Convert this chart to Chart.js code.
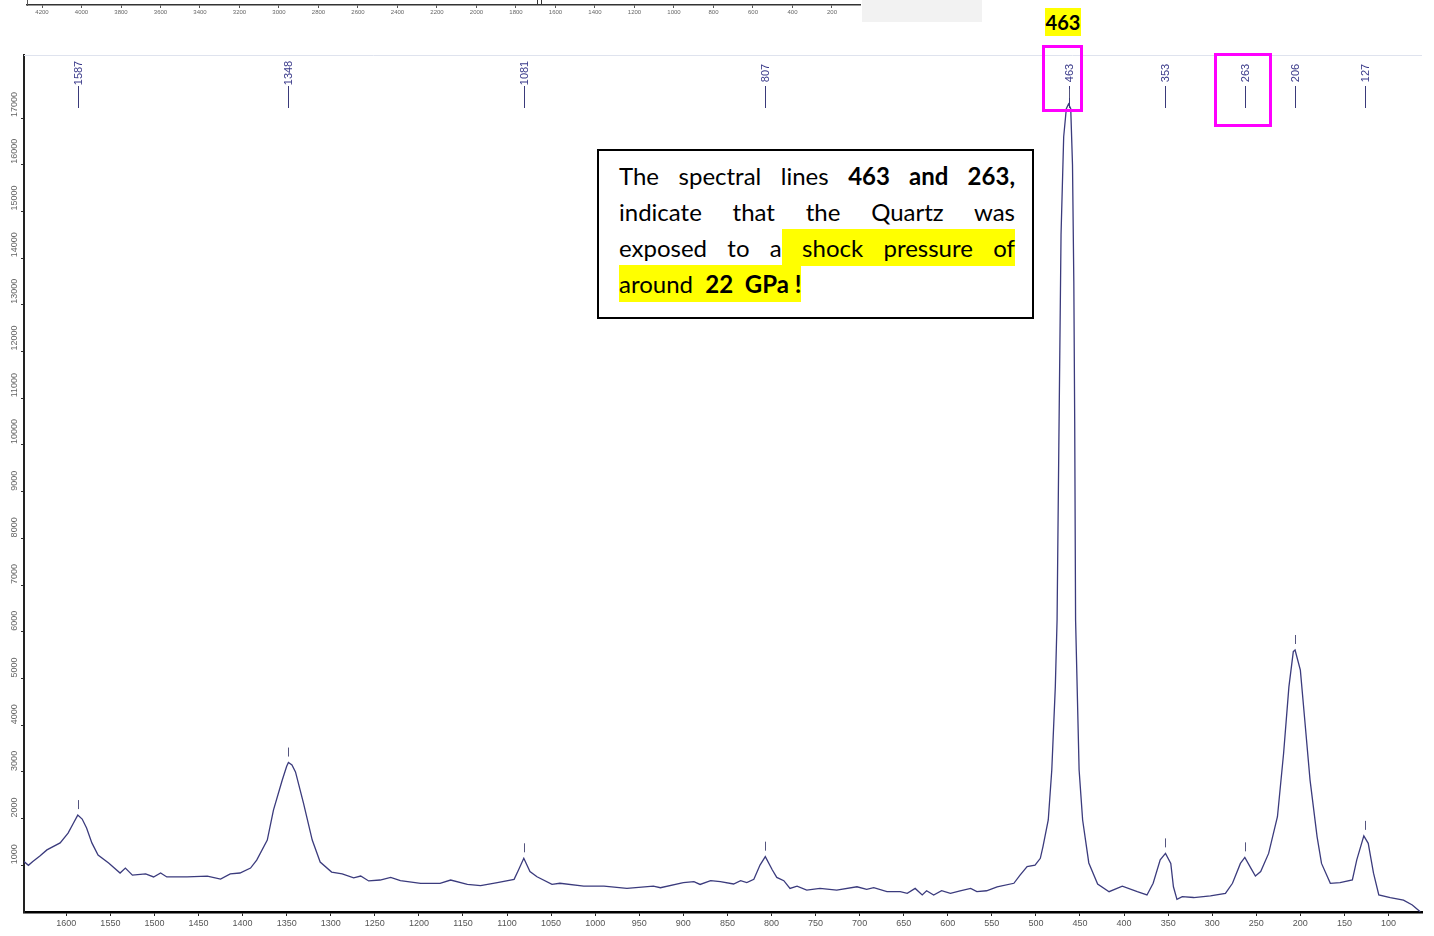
<!DOCTYPE html>
<html><head><meta charset="utf-8">
<script src="https://cdn.jsdelivr.net/npm/chart.js@4"></script>
<style>
html,body{margin:0;padding:0;background:#fff;}
#wrap{position:relative;width:1434px;height:936px;overflow:hidden;background:#fff;}
#main{position:absolute;left:0;top:0;}
#thumbBg{position:absolute;left:0;top:0;width:982px;height:22px;background:#f2f2f2;}
#thumbWhite{position:absolute;left:0;top:0;width:862px;height:22px;background:#fff;}
#thumb{position:absolute;left:0;top:0;}
.note{position:absolute;left:597px;top:149px;width:396px;height:159px;padding:7px 17px 0 20px;border:2px solid #000;background:#fff;font-family:Lato,"Open Sans",sans-serif;font-size:24px;line-height:36px;color:#000;}
.note div{white-space:nowrap;}
.note .j{text-align:justify;text-align-last:justify;white-space:normal;}
.hl{background:#ffff00;padding:3.6px 0;}
.big463{position:absolute;left:1045px;top:8px;width:36px;height:28px;background:#ffff00;font:bold 20px Lato,sans-serif;line-height:28px;text-align:center;color:#000;}
.mag{position:absolute;border:3px solid #ff00ff;box-sizing:border-box;}
</style></head>
<body>
<div id="wrap">
<canvas id="main" width="1434" height="936"></canvas>
<div id="thumbBg"></div>
<div id="thumbWhite"></div>
<canvas id="thumb" width="862" height="22"></canvas>
<div class="note">
<div class="j">The spectral lines <b>463 and 263,</b></div>
<div class="j">indicate that the Quartz was</div>
<div class="j">exposed to a<span class="hl"> shock pressure of</span></div>
<div><span class="hl">around&nbsp; <b>22&nbsp; GPa !</b></span></div>
</div>
<div class="big463">463</div>
<div class="mag" style="left:1042px;top:45px;width:41px;height:67px;"></div>
<div class="mag" style="left:1214px;top:53px;width:58px;height:74px;"></div>
</div>
<script>
const ramanShift = [1648,1643,1638,1630,1622,1607,1598,1592,1587,1582,1577,1571,1564,1552,1539,1533,1525,1510,1501,1493,1486,1463,1440,1425,1414,1403,1391,1384,1372,1365,1355,1350,1348,1344,1340,1331,1321,1312,1299,1287,1274,1266,1257,1244,1232,1221,1198,1176,1164,1145,1130,1111,1092,1087,1081,1074,1066,1049,1040,1013,990,964,934,926,900,888,881,869,858,843,835,828,820,813,807,799,794,786,779,771,760,745,726,703,692,684,669,654,646,637,629,624,616,607,597,586,574,567,556,544,525,518,510,501,495,492,486,482,478,476,474,471.5,468.5,465.5,463,460.5,458.5,457,456,455,451,447,440,430,417,402,385,374,367,359,353,347,344,340,334,321,302,285,277,268,263,256,251,245,236,226,219,213,208,206,200,195,189,181,176,166,155,141,136,128,123,117,111,98,83,73,64];
const intensity = [1080,1000,1080,1200,1330,1480,1690,1900,2075,1990,1800,1480,1220,1050,835,940,790,815,750,835,750,750,770,705,815,835,940,1110,1540,2180,2825,3120,3200,3150,3000,2335,1540,1070,855,815,730,770,665,685,740,670,615,615,685,590,565,630,700,900,1150,865,755,590,615,555,555,505,555,520,630,650,590,670,650,600,670,630,700,1005,1185,900,740,670,505,555,470,505,470,540,485,520,435,435,400,505,365,455,365,455,400,450,505,435,455,540,615,790,970,1005,1150,1400,1970,3040,4820,6250,10000,14500,16600,17200,17300,17200,16000,13500,10500,6250,3040,1970,1050,600,435,555,435,365,615,1115,1255,1040,540,270,330,310,345,400,615,1040,1170,935,770,865,1255,2040,3400,4820,5575,5610,5180,4110,2825,1610,1040,615,630,685,1115,1630,1470,830,365,310,255,150,5];
const xTickValues = [1600,1550,1500,1450,1400,1350,1300,1250,1200,1150,1100,1050,1000,950,900,850,800,750,700,650,600,550,500,450,400,350,300,250,200,150,100];
const yTickValues = [1000,2000,3000,4000,5000,6000,7000,8000,9000,10000,11000,12000,13000,14000,15000,16000,17000];
const peakLabels = [1587,1348,1081,807,463,353,263,206,127];
const thumbTickValues = [4200,4000,3800,3600,3400,3200,3000,2800,2600,2400,2200,2000,1800,1600,1400,1200,1000,800,600,400,200];
const thumbRangeMarks = [1695,1675];

function peakValue(p){
  let best = 0;
  ramanShift.forEach((s,i)=>{ if(Math.abs(s-p)<=4 && intensity[i]>best) best=intensity[i]; });
  return best;
}

const annot = {
  id:'annot',
  afterDraw(chart){
    const ctx = chart.ctx, xs = chart.scales.x, ys = chart.scales.y, ca = chart.chartArea;
    ctx.save();
    ctx.strokeStyle = '#dfe3ee'; ctx.lineWidth = 1;
    ctx.beginPath(); ctx.moveTo(ca.left, ca.top+0.5); ctx.lineTo(ca.right, ca.top+0.5); ctx.stroke();
    ctx.fillStyle = '#666'; ctx.font = '9px "Liberation Sans", Arial, sans-serif';
    yTickValues.forEach(v=>{
      const py = ys.getPixelForValue(v);
      ctx.save(); ctx.translate(15, py); ctx.rotate(-Math.PI/2);
      ctx.textAlign='left'; ctx.textBaseline='middle';
      ctx.fillText(String(v), 1, 0);
      ctx.restore();
    });
    peakLabels.forEach(p=>{
      const px = Math.round(xs.getPixelForValue(p))+0.5;
      ctx.save(); ctx.translate(px, 73); ctx.rotate(-Math.PI/2);
      ctx.fillStyle='#3a3a8a'; ctx.font='11px "Liberation Sans", Arial, sans-serif';
      ctx.textAlign='center'; ctx.textBaseline='middle';
      ctx.fillText(String(p),0,0);
      ctx.restore();
      ctx.strokeStyle='#3a3a7a'; ctx.lineWidth=1;
      ctx.beginPath(); ctx.moveTo(px,86); ctx.lineTo(px,108); ctx.stroke();
      const py = ys.getPixelForValue(peakValue(p));
      ctx.strokeStyle='#55557f';
      ctx.beginPath(); ctx.moveTo(px,py-15); ctx.lineTo(px,py-6); ctx.stroke();
    });
    ctx.restore();
  }
};

new Chart(document.getElementById('main').getContext('2d'), {
  type:'line',
  data:{datasets:[{
    data: ramanShift.map((x,i)=>({x:x, y:intensity[i]})),
    borderColor:'#3b3b7d', borderWidth:1.3, pointRadius:0, tension:0, fill:false
  }]},
  options:{
    responsive:false, animation:false, events:[],
    layout:{padding:{top:55,right:12,left:0,bottom:0}},
    plugins:{legend:{display:false}, tooltip:{enabled:false}},
    scales:{
      x:{type:'linear', reverse:true, min:62, max:1648,
        afterBuildTicks:s=>{ s.ticks = xTickValues.map(v=>({value:v})); },
        afterFit:s=>{ s.height = 24; },
        grid:{display:true, drawOnChartArea:false, drawTicks:true, tickLength:4, color:'#222'},
        border:{display:true, color:'#000', width:2.5},
        ticks:{font:{family:'"Liberation Sans", Arial, sans-serif', size:9}, color:'#555', padding:2, maxRotation:0, minRotation:0, autoSkip:false, callback:v=>String(v)}
      },
      y:{type:'linear', min:0, max:18350,
        afterBuildTicks:s=>{ s.ticks = yTickValues.map(v=>({value:v})); },
        afterFit:s=>{ s.width = 24; },
        grid:{display:true, drawOnChartArea:false, drawTicks:true, tickLength:3, color:'#333'},
        border:{display:true, color:'#222', width:2},
        ticks:{display:false}
      }
    }
  },
  plugins:[annot]
});

const thumbMarks = {
  id:'thumbMarks',
  afterDraw(chart){
    const ctx=chart.ctx, xs=chart.scales.x, ca=chart.chartArea;
    ctx.save(); ctx.strokeStyle='#333'; ctx.lineWidth=1;
    thumbRangeMarks.forEach(v=>{
      const px=Math.round(xs.getPixelForValue(v))+0.5;
      ctx.beginPath(); ctx.moveTo(px,0); ctx.lineTo(px,ca.bottom); ctx.stroke();
    });
    ctx.restore();
  }
};

new Chart(document.getElementById('thumb').getContext('2d'), {
  type:'line',
  data:{datasets:[{data:[], borderColor:'#9a7ab8', borderWidth:1, pointRadius:0}]},
  options:{
    responsive:false, animation:false, events:[],
    layout:{padding:{top:0,right:2,left:0,bottom:0}},
    plugins:{legend:{display:false}, tooltip:{enabled:false}},
    scales:{
      x:{type:'linear', reverse:true, min:58, max:4276,
        afterBuildTicks:s=>{ s.ticks = thumbTickValues.map(v=>({value:v})); },
        afterFit:s=>{ s.height = 17; },
        grid:{display:true, drawOnChartArea:false, tickLength:3, color:'#555'},
        border:{display:true, color:'#333', width:1.5},
        ticks:{font:{family:'"Liberation Sans", Arial, sans-serif', size:6}, color:'#666', padding:1, maxRotation:0, minRotation:0, autoSkip:false, callback:v=>String(v)}
      },
      y:{type:'linear', min:0, max:1,
        afterFit:s=>{ s.width = 27; },
        grid:{display:false},
        border:{display:true, color:'#555', width:1},
        ticks:{display:false}
      }
    }
  },
  plugins:[thumbMarks]
});
</script>
</body></html>
